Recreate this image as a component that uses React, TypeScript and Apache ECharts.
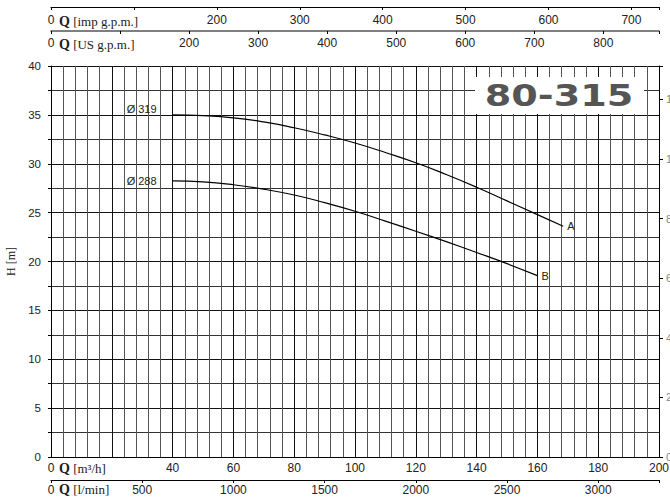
import React, { useEffect, useRef } from 'react';
import * as echarts from 'echarts';

// Flow (m³/h) and head (m)
const Q_A = [40, 50, 60, 70, 80, 90, 100, 110, 120, 130, 140, 150, 160, 168.5];
const H_A = [35.0, 34.92, 34.7, 34.28, 33.68, 32.95, 32.12, 31.15, 30.1, 28.9, 27.6, 26.2, 24.8, 23.6];
const Q_B = [40, 50, 60, 70, 80, 90, 100, 110, 120, 130, 140, 150, 160];
const H_B = [28.25, 28.15, 27.85, 27.4, 26.8, 26.02, 25.14, 24.13, 23.1, 22.03, 20.92, 19.78, 18.55];

const CURVE_NAMES = ['A', 'B'];
const DIAMETERS = ['Ø 319', 'Ø 288'];
const MODEL = '80-315';

// axis ranges
const Q_MAX = 200; // m³/h
const H_MAX = 40; // m
const IMP_PER_M3H = 3.6662;
const US_PER_M3H = 4.4029;
const LMIN_PER_M3H = 1000 / 60;
const FT_PER_M = 1 / 0.3048;

const SANS = 'Liberation Sans, Arial, sans-serif';
const SERIF = 'Liberation Serif, Times New Roman, serif';

const isMult = (v: number, m: number) => Math.abs(v / m - Math.round(v / m)) < 1e-6;

export default function App() {
  const ref = useRef<HTMLDivElement>(null);
  useEffect(() => {
    document.body.style.margin = '0';
    const chart = echarts.init(ref.current!, null, { renderer: 'svg' });
    const dataA = Q_A.map((q, i) => [q, H_A[i]]);
    const dataB = Q_B.map((q, i) => [q, H_B[i]]);
    const labelStyle = { fontFamily: SANS, fontSize: 11, color: '#222' };
    const option: any = {
      animation: false,
      backgroundColor: '#fff',
      grid: {
        left: 51, right: 11, top: 66, bottom: 45, containLabel: false, show: false,
        outerBoundsMode: 'none',
      },
      xAxis: [
        {
          type: 'value', position: 'bottom', min: 0, max: Q_MAX, interval: 20,
          axisLine: { show: true, onZero: false, lineStyle: { color: '#000', width: 1 } },
          axisTick: { show: false },
          minorTick: { show: false, splitNumber: 5 },
          splitLine: { show: true, lineStyle: { color: '#111', width: 1 } },
          minorSplitLine: { show: true, lineStyle: { color: '#555', width: 1 } },
          axisLabel: {
            margin: 5, fontFamily: SANS, fontSize: 12, color: '#222',
            formatter: (v: number) => (v === 20 ? '' : String(v)),
          },
        },
        {
          type: 'value', position: 'top', offset: 59, min: 0, max: Q_MAX * IMP_PER_M3H, interval: 100,
          axisLine: { show: true, onZero: false, lineStyle: { color: '#000', width: 1.2 } },
          axisTick: { show: true, inside: true, length: 3, lineStyle: { color: '#000' } },
          splitLine: { show: false },
          axisLabel: {
            inside: true, margin: 7, fontFamily: SANS, fontSize: 12, color: '#222',
            formatter: (v: number) => (isMult(v, 100) && Math.round(v) !== 100 ? String(Math.round(v)) : ''),
          },
        },
        {
          type: 'value', position: 'top', offset: 35, min: 0, max: Q_MAX * US_PER_M3H, interval: 100,
          axisLine: { show: true, onZero: false, lineStyle: { color: '#555', width: 1.5 } },
          axisTick: { show: true, inside: true, length: 3, lineStyle: { color: '#000' } },
          splitLine: { show: false },
          axisLabel: {
            inside: true, margin: 6, fontFamily: SANS, fontSize: 12, color: '#222',
            formatter: (v: number) => (isMult(v, 100) && Math.round(v) !== 100 ? String(Math.round(v)) : ''),
          },
        },
        {
          type: 'value', position: 'bottom', offset: 23, min: 0, max: Q_MAX * LMIN_PER_M3H, interval: 500,
          axisLine: { show: true, onZero: false, lineStyle: { color: '#000', width: 1.2 } },
          axisTick: { show: true, inside: false, length: 3, lineStyle: { color: '#000' } },
          splitLine: { show: false },
          axisLabel: {
            margin: 4, fontFamily: SANS, fontSize: 12, color: '#222',
            formatter: (v: number) => (isMult(v, 500) ? String(Math.round(v)) : ''),
          },
        },
      ],
      yAxis: [
        {
          type: 'value', position: 'left', min: 0, max: H_MAX, interval: 5,
          name: 'H [m]', nameLocation: 'middle', nameGap: 33,
          nameTextStyle: { fontFamily: SERIF, fontSize: 12, color: '#222' },
          axisLine: { show: true, onZero: false, lineStyle: { color: '#000', width: 1 } },
          axisTick: { show: true, length: 3, lineStyle: { color: '#000' } },
          minorTick: { show: true, splitNumber: 2, length: 3, lineStyle: { color: '#000' } },
          splitLine: { show: true, lineStyle: { color: '#111', width: 1 } },
          minorSplitLine: { show: true, lineStyle: { color: '#333', width: 1 } },
          axisLabel: { margin: 10, fontFamily: SANS, fontSize: 11.5, color: '#222' },
        },
        {
          type: 'value', position: 'right', min: 0, max: H_MAX * FT_PER_M, interval: 20,
          axisLine: { show: true, onZero: false, lineStyle: { color: '#000', width: 1 } },
          axisTick: { show: true, length: 4, lineStyle: { color: '#000' } },
          splitLine: { show: false },
          axisLabel: {
            margin: 7, fontFamily: SANS, fontSize: 11, color: '#888',
            formatter: (v: number) => (isMult(v, 20) ? String(Math.round(v)) : ''),
          },
        },
      ],
      series: [
        {
          type: 'line', name: CURVE_NAMES[0], data: dataA, smooth: true, showSymbol: false,
          lineStyle: { color: '#000', width: 1.2 }, silent: true,
          endLabel: { show: true, formatter: CURVE_NAMES[0], distance: 4, ...labelStyle },
          markPoint: {
            symbol: 'circle', symbolSize: 0, silent: true,
            data: [{ coord: dataA[0], label: { show: true, position: 'left', distance: 16, offset: [0, -6], formatter: DIAMETERS[0], ...labelStyle } }],
          },
        },
        {
          type: 'line', name: CURVE_NAMES[1], data: dataB, smooth: true, showSymbol: false,
          lineStyle: { color: '#000', width: 1.2 }, silent: true,
          endLabel: { show: true, formatter: CURVE_NAMES[1], distance: 4, ...labelStyle },
          markPoint: {
            symbol: 'circle', symbolSize: 0, silent: true,
            data: [{ coord: dataB[0], label: { show: true, position: 'left', distance: 16, offset: [0, 0], formatter: DIAMETERS[1], ...labelStyle } }],
          },
        },
      ],
      graphic: [
        {
          type: 'rect', z: 100, shape: { x: 475, y: 77, width: 169, height: 37 },
          style: { fill: '#fff' },
        },
        {
          type: 'text', z: 101, x: 559, y: 96, scaleX: 1.27,
          style: {
            text: MODEL, fontFamily: 'DejaVu Sans, sans-serif', fontWeight: 'bold', fontSize: 30,
            fill: '#555', align: 'center', verticalAlign: 'middle',
          },
        },
        {
          type: 'text', z: 101, x: 59, y: 21,
          style: {
            text: '{q|Q} [imp g.p.m.]', fontFamily: SERIF, fontSize: 13, fill: '#222', verticalAlign: 'middle',
            rich: { q: { fontFamily: SERIF, fontSize: 14, fontWeight: 'bold', fill: '#222' } },
          },
        },
        {
          type: 'text', z: 101, x: 59, y: 44,
          style: {
            text: '{q|Q} [US g.p.m.]', fontFamily: SERIF, fontSize: 13, fill: '#222', verticalAlign: 'middle',
            rich: { q: { fontFamily: SERIF, fontSize: 14, fontWeight: 'bold', fill: '#222' } },
          },
        },
        {
          type: 'text', z: 101, x: 59, y: 468,
          style: {
            text: '{q|Q} [m³/h]', fontFamily: SERIF, fontSize: 13, fill: '#222', verticalAlign: 'middle',
            rich: { q: { fontFamily: SERIF, fontSize: 14, fontWeight: 'bold', fill: '#222' } },
          },
        },
        {
          type: 'text', z: 101, x: 59, y: 489,
          style: {
            text: '{q|Q} [l/min]', fontFamily: SERIF, fontSize: 13, fill: '#222', verticalAlign: 'middle',
            rich: { q: { fontFamily: SERIF, fontSize: 14, fontWeight: 'bold', fill: '#222' } },
          },
        },
      ],
    };
    chart.setOption(option);
    return () => chart.dispose();
  }, []);
  return <div ref={ref} style={{ width: 670, height: 502 }} />;
}
